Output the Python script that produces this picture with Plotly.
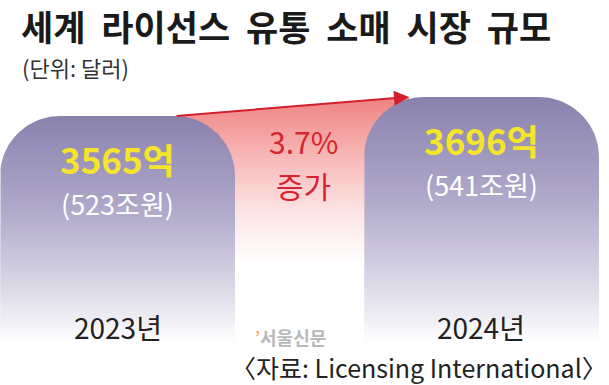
import numpy as np
import plotly.graph_objects as go

# ---- data ----
years = ["2023년", "2024년"]
values_usd = [3565, 3696]          # 억 달러
values_krw = [523, 541]            # 조원
title = "세계 라이선스 유통 소매 시장 규모"
unit_note = "(단위: 달러)"
source = "〈자료: Licensing International〉"

growth = (values_usd[1] - values_usd[0]) / values_usd[0] * 100

# ---- layout helpers (pixel geometry of the canvas) ----
W, H = 609, 385
X_RANGE = [-0.3228, 1.3503]
Y_RANGE = [1710, 4365]
px_per_x = W / (X_RANGE[1] - X_RANGE[0])
units_per_py = (Y_RANGE[1] - Y_RANGE[0]) / H

def ypix(p):
    """data value at a given pixel row (from top)"""
    return Y_RANGE[1] - p * units_per_py

half_w = 0.3228
r_px = 60
rx = r_px / px_per_x
ry = r_px * units_per_py

def rounded_bar(xc, top, base):
    x0, x1 = xc - half_w, xc + half_w
    t = np.linspace(0, np.pi / 2, 24)
    xs = [x0]
    ys = [base]
    xs += list(x0 + rx - rx * np.cos(t))
    ys += list(top - ry + ry * np.sin(t))
    xs += list(x1 - rx + rx * np.sin(t))
    ys += list(top - ry + ry * np.cos(t))
    xs += [x1, x0]
    ys += [base, base]
    return xs, ys

fig = go.Figure()

# red band between the bar tops
xa = 0 + half_w - rx
xb = 1 - half_w + rx * 0.75
band_bottom = ypix(265)
fig.add_trace(go.Scatter(
    x=[xa, xb, xb, xa, xa],
    y=[values_usd[0], values_usd[1], band_bottom, band_bottom, values_usd[0]],
    mode="lines", line=dict(width=0), fill="toself",
    fillgradient=dict(type="vertical",
                      colorscale=[[0, "#ffffff"], [0.3, "#fde6e6"],
                                  [0.62, "#f8bbbb"], [1, "#f08282"]],
                      start=band_bottom, stop=values_usd[1]),
    hoverinfo="skip", showlegend=False))

# bars
bar_base = Y_RANGE[0]
fade_white = ypix(342)
for i, v in enumerate(values_usd):
    xs, ys = rounded_bar(i, v, bar_base)
    fig.add_trace(go.Scatter(
        x=xs, y=ys, mode="lines", line=dict(width=0), fill="toself",
        fillgradient=dict(type="vertical",
                          colorscale=[[0, "#ffffff"], [0.12, "#eceaf2"],
                                      [0.35, "#cdc9de"], [0.6, "#aea7c9"],
                                      [1, "#8a82ae"]],
                          start=fade_white, stop=v),
        hoverinfo="skip", showlegend=False))

annotations = []
annotations.append(dict(x=xb, y=values_usd[1], ax=xa, ay=values_usd[0],
                        xref="x", yref="y", axref="x", ayref="y",
                        text="", showarrow=True, arrowhead=2, arrowsize=1.5,
                        arrowwidth=2, arrowcolor="#d11f2b"))

KFONT = "Noto Sans CJK KR"
for i, (v, k, yr) in enumerate(zip(values_usd, values_krw, years)):
    annotations.append(dict(x=i, y=v, xref="x", yref="y", yshift=-42,
                            yanchor="middle", borderpad=0,
                            text=f"<b>{v}억</b>", showarrow=False,
                            font=dict(family=KFONT, size=35, color="#f4e42a")))
    annotations.append(dict(x=i, y=v, xref="x", yref="y", yshift=-87,
                            yanchor="middle", borderpad=0,
                            text=f"({k}조원)", showarrow=False,
                            font=dict(family=KFONT, size=27, color="#ffffff")))
    annotations.append(dict(x=i, y=1 - 327 / H, xref="x", yref="paper",
                            yanchor="middle",
                            text=yr, showarrow=False,
                            font=dict(family=KFONT, size=28, color="#222222")))

annotations.append(dict(x=0.5, y=1 - 141 / H, xref="x", yref="paper", xshift=4,
                        yanchor="middle", borderpad=0,
                        text=f"{growth:.1f}%", showarrow=False,
                        font=dict(family=KFONT, size=30, color="#d6252e")))
annotations.append(dict(x=0.5, y=1 - 185 / H, xref="x", yref="paper", xshift=4,
                        yanchor="middle", borderpad=0,
                        text="증가", showarrow=False,
                        font=dict(family=KFONT, size=30, color="#d6252e")))

annotations.append(dict(x=20 / W, y=1 - 25 / H, xref="paper", yref="paper",
                        xanchor="left", yanchor="middle", borderpad=0,
                        text="<b>" + title.replace(" ", "\u00a0\u00a0") + "</b>",
                        showarrow=False,
                        font=dict(family=KFONT, size=35, color="#1a1a1a")))
annotations.append(dict(x=20 / W, y=1 - 67 / H, xref="paper", yref="paper",
                        xanchor="left", yanchor="middle", text=unit_note,
                        showarrow=False,
                        font=dict(family=KFONT, size=22, color="#333333")))
annotations.append(dict(x=1.0, y=1 - 367 / H, xref="paper", yref="paper",
                        xanchor="right", yanchor="middle", text=source,
                        showarrow=False,
                        font=dict(family=KFONT, size=25, color="#222222")))
annotations.append(dict(x=253 / W, y=1 - 337 / H, xref="paper", yref="paper",
                        xanchor="left", yanchor="middle",
                        text="<span style='color:#f0a030'>’</span><b>서울신문</b>",
                        showarrow=False,
                        font=dict(family=KFONT, size=18, color="#b8b8b8")))

fig.update_layout(
    width=W, height=H, margin=dict(l=0, r=0, t=0, b=0, pad=0),
    paper_bgcolor="white", plot_bgcolor="white", showlegend=False,
    xaxis=dict(visible=False, range=X_RANGE, fixedrange=True),
    yaxis=dict(visible=False, range=Y_RANGE, fixedrange=True),
    annotations=annotations,
)

fig.write_html("out.html")
